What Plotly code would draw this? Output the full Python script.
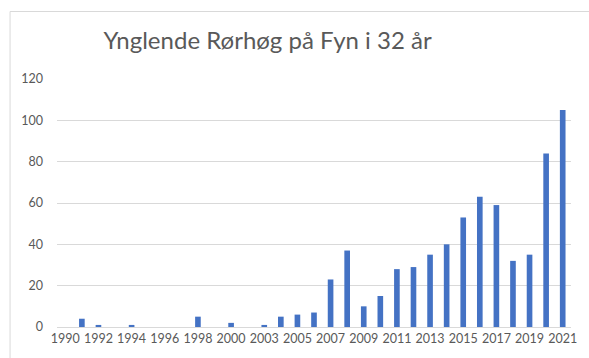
import plotly.graph_objects as go

# Breeding marsh harriers on Funen, yearly counts
years = ["1990", "1991", "1992", "1993", "1994", "1995", "1996", "1997",
         "1998", "1999", "2000", "2001", "2003", "2004", "2005", "2006",
         "2007", "2008", "2009", "2010", "2011", "2012", "2013", "2014",
         "2015", "2016", "2017", "2018", "2019", "2020", "2021"]
pairs = [0, 4, 1, 0, 1, 0, 0, 0,
         5, 0, 2, 0, 1, 5, 6, 7,
         23, 37, 10, 15, 28, 29, 35, 40,
         53, 63, 59, 32, 35, 84, 105]
tick_years = years[::2]
y_ticks = [0, 20, 40, 60, 80, 100, 120]

TEXT = "#595959"
GRID = "#d9d9d9"
FONT = "Lato, 'Open Sans', sans-serif"

W, H = 589, 358
L, R, T, B = 57, 12, 79, 31
pw, ph = W - L - R, H - T - B


def px_x(p):
    return (p - L) / pw


def px_y(p):
    return (H - B - p) / ph


fig = go.Figure(
    go.Bar(x=years, y=pairs, marker=dict(color="#4472C4", line=dict(width=0)))
)

fig.update_layout(
    width=W,
    height=H,
    margin=dict(l=L, r=R, t=T, b=B),
    paper_bgcolor="white",
    plot_bgcolor="white",
    bargap=0.66,
    showlegend=False,
    font=dict(family=FONT, color=TEXT, size=12.5),
    title=dict(
        text="Ynglende Rørhøg på Fyn i 32 år",
        font=dict(family=FONT, size=24, color=TEXT),
        x=px_x(270), xref="paper", xanchor="center",
        y=1 - 41 / H, yref="container", yanchor="middle",
    ),
    xaxis=dict(
        type="category",
        tickmode="array",
        tickvals=tick_years,
        ticktext=tick_years,
        tickangle=0,
        showgrid=False,
        showline=True,
        linecolor=GRID,
        linewidth=1,
        ticks="",
        tickfont=dict(size=12.5, color=TEXT),
    ),
    yaxis=dict(
        range=[0, 120],
        tickvals=y_ticks,
        showgrid=True,
        gridcolor=GRID,
        gridwidth=1,
        zeroline=False,
        showline=False,
        ticks="",
        ticklabelstandoff=13,
        tickfont=dict(size=12.5, color=TEXT),
    ),
    shapes=[
        dict(
            type="rect", xref="paper", yref="paper",
            x0=px_x(9.5), x1=px_x(W + 20),
            y0=px_y(H + 20), y1=px_y(11.5),
            line=dict(color=GRID, width=1),
            fillcolor="rgba(0,0,0,0)",
            layer="below",
        )
    ],
)

fig.write_html("out.html")
